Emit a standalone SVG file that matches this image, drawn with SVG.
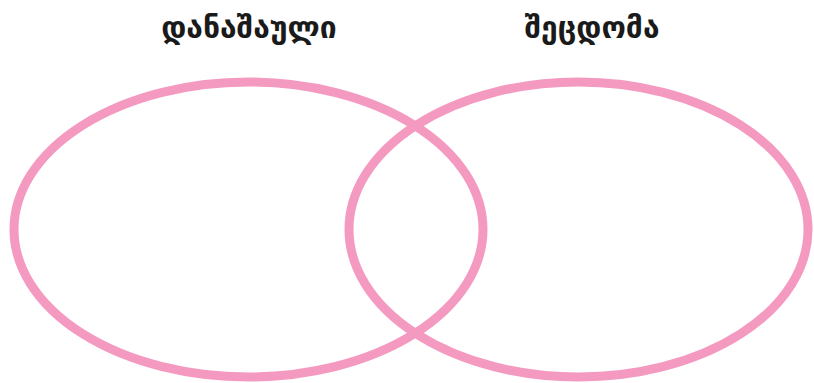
<svg xmlns="http://www.w3.org/2000/svg" width="814" height="383" viewBox="0 0 814 383">
<style>
.ring{fill:none;stroke:#f49ac1;stroke-width:9}
.lbl{font-family:"DejaVu Sans","Noto Sans",sans-serif;font-weight:bold;font-size:30px;fill:#1a1a1a;text-anchor:middle}
</style>
<rect width="814" height="383" fill="#ffffff"/>
<g id="set-crime">
<ellipse class="ring" cx="248.5" cy="229.5" rx="234.5" ry="147.5"/>
<text class="lbl" x="249" y="38">დანაშაული</text>
</g>
<g id="set-mistake">
<ellipse class="ring" cx="578.5" cy="229.5" rx="229.5" ry="147.5"/>
<text class="lbl" x="592" y="38">შეცდომა</text>
</g>
<g id="connectors"></g>
</svg>
